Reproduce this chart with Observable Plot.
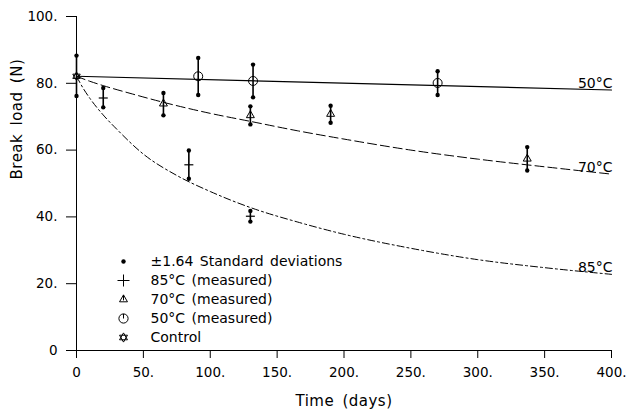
<!DOCTYPE html>
<html><head><meta charset="utf-8">
<script src="https://cdn.jsdelivr.net/npm/d3@7"></script>
<script src="https://cdn.jsdelivr.net/npm/@observablehq/plot@0.6"></script>
<style>
body{margin:0;background:#fff;}
#chart svg{font-family:"DejaVu Sans",sans-serif;background:#fff;}
</style></head><body><div id="chart"></div>
<script>
const days85 = [20, 84, 130];
const mean85 = [75.6, 55.6, 40.2];
const lo85 = [72.8, 51.4, 38.6];
const hi85 = [78.6, 59.9, 41.8];

const days70 = [65, 130, 190, 337];
const mean70 = [73.9, 70.4, 70.8, 57.4];
const lo70 = [70.4, 67.7, 68.2, 53.9];
const hi70 = [77.1, 73.1, 73.3, 60.9];

const days50 = [91, 132, 270];
const mean50 = [82.1, 80.7, 80.1];
const lo50 = [76.5, 75.8, 76.5];
const hi50 = [87.6, 85.6, 83.6];

const daysControl = [0];
const meanControl = [82.1];
const loControl = [76.2];
const hiControl = [88.3];

// ---- fitted curves ----
const fitDays50 = [0, 400];
const fit50 = [82.1, 78.0];
const fitDays70 = [0, 10, 20, 40, 65, 100, 130, 165, 200, 250, 300, 350, 400];
const fit70 = [82.1, 80.6, 79.3, 77.0, 74.3, 71.0, 68.6, 65.8, 63.3, 60.0, 57.3, 55.0, 52.8];
const fitDays85 = [0, 5, 10, 20, 30, 50, 75, 100, 130, 165, 200, 250, 300, 350, 400];
const fit85 = [82.1, 78.5, 75.5, 70.5, 66.3, 58.8, 52.4, 47.6, 42.8, 38.5, 34.8, 30.6, 27.2, 24.8, 22.8];
const curveLabels = ["50°C", "70°C", "85°C"];

const legendLabels = ["±1.64 Standard deviations", "85°C (measured)", "70°C (measured)", "50°C (measured)", "Control"];

const xTicks = [0, 50, 100, 150, 200, 250, 300, 350, 400];
const xTickLabels = ["0", "50.", "100.", "150.", "200.", "250.", "300.", "350.", "400."];
const yTicks = [0, 20, 40, 60, 80, 100];
const yTickLabels = ["0", "20.", "40.", "60.", "80.", "100."];
const xTitle = "Time (days)";
const yTitle = "Break load (N)";

// ---- custom symbols ----
const R = s => Math.sqrt(s / Math.PI);
const symPlus = {draw(c, s){const r = R(s); c.moveTo(-r,0); c.lineTo(r,0); c.moveTo(0,-r); c.lineTo(0,r);}};
const symHBar = {draw(c, s){const r = R(s); c.moveTo(-r,0); c.lineTo(r,0);}};
const symTri = bar => ({draw(c, s){const r = R(s);
  c.moveTo(0,-r); c.lineTo(r*0.866, r*0.5); c.lineTo(-r*0.866, r*0.5); c.closePath();
  if (bar) {c.moveTo(0,-r); c.lineTo(0, r*0.2);} }});
const symCirc = bar => ({draw(c, s){const r = R(s);
  c.moveTo(r,0); c.arc(0,0,r,0,2*Math.PI);
  if (bar) {c.moveTo(0,-r); c.lineTo(0,0);} }});
const symHex = {draw(c, s){const r = R(s);
  c.moveTo(0,-r); c.lineTo(r*0.866, r*0.5); c.lineTo(-r*0.866, r*0.5); c.closePath();
  c.moveTo(0,r); c.lineTo(r*0.866, -r*0.5); c.lineTo(-r*0.866, -r*0.5); c.closePath();}};

// ---- tables ----
function table(days, mean, lo, hi, series) {
  return days.map((d, i) => ({day: d, mean: mean[i], lo: lo[i], hi: hi[i], series}));
}
const m85 = table(days85, mean85, lo85, hi85, "85");
const m70 = table(days70, mean70, lo70, hi70, "70");
const m50 = table(days50, mean50, lo50, hi50, "50");
const mC = table(daysControl, meanControl, loControl, hiControl, "C");
const measured = [...m85, ...m70, ...m50, ...mC];

const curve = (days, vals) => days.map((d, i) => ({day: d, v: vals[i]}));
const c50 = curve(fitDays50, fit50), c70 = curve(fitDays70, fit70), c85 = curve(fitDays85, fit85);
const ends = [c50, c70, c85].map((c, i) => ({...c[c.length - 1], label: curveLabels[i]}));

const legendSyms = [null, symPlus, symTri(true), symCirc(true), symHex];
const legendMarks = legendLabels.flatMap((lab, i) => {
  const dy = -89 + i * 19;
  const marks = [
    Plot.text([lab], {text: d => d, frameAnchor: "bottom-left", dx: 74, dy, textAnchor: "start", lineAnchor: "middle", fontSize: 14, fill: "black"})
  ];
  if (i === 0) marks.push(Plot.dot([lab], {frameAnchor: "bottom-left", dx: 47, dy, r: 2.2, fill: "black", stroke: "none"}));
  else marks.push(Plot.dot([lab], {frameAnchor: "bottom-left", dx: 47, dy, r: i === 1 ? 6 : 4.6, symbol: legendSyms[i], stroke: "black", fill: "none", strokeWidth: 1}));
  return marks;
});

const chart = Plot.plot({
  width: 626, height: 414,
  marginLeft: 76, marginRight: 15, marginTop: 16, marginBottom: 64,
  style: {fontFamily: "DejaVu Sans", color: "black", background: "white"},
  x: {domain: [0, 400]},
  y: {domain: [0, 100]},
  marks: [
    Plot.axisX({ticks: xTicks, tickFormat: d => xTickLabels[xTicks.indexOf(d)], tickSize: 8, tickPadding: 9, fontSize: 13.5, label: null, stroke: "black", strokeOpacity: 1}),
    Plot.axisY({ticks: yTicks, tickFormat: d => yTickLabels[yTicks.indexOf(d)], tickSize: 10, tickPadding: 9, fontSize: 13.5, label: null, stroke: "black", strokeOpacity: 1}),
    Plot.ruleY([0], {stroke: "black"}),
    Plot.ruleX([0], {stroke: "black"}),
    Plot.line(c50, {x: "day", y: "v", stroke: "black", strokeWidth: 1.1}),
    Plot.line(c70, {x: "day", y: "v", stroke: "black", strokeWidth: 1, strokeDasharray: "9,4", curve: "monotone-x"}),
    Plot.line(c85, {x: "day", y: "v", stroke: "black", strokeWidth: 1, strokeDasharray: "7,3,2,3", curve: "monotone-x"}),
    Plot.ruleX(measured, {x: "day", y1: "lo", y2: "hi", stroke: "black", strokeWidth: 1.6}),
    Plot.dot(measured, {x: "day", y: "lo", r: 2.2, fill: "black", stroke: "none"}),
    Plot.dot(measured, {x: "day", y: "hi", r: 2.2, fill: "black", stroke: "none"}),
    Plot.dot(m85, {x: "day", y: "mean", r: 4.5, symbol: symHBar, stroke: "black", strokeWidth: 1.2}),
    Plot.dot(m70, {x: "day", y: "mean", r: 4.6, symbol: symTri(false), stroke: "black", fill: "none", strokeWidth: 1}),
    Plot.dot(m50, {x: "day", y: "mean", r: 4.5, symbol: symCirc(false), stroke: "black", fill: "none", strokeWidth: 1}),
    Plot.dot(mC, {x: "day", y: "mean", r: 4.3, symbol: symHex, stroke: "black", fill: "none", strokeWidth: 1}),
    Plot.text(ends, {x: "day", y: "v", text: "label", textAnchor: "end", lineAnchor: "bottom", dx: 1, dy: -2, fontSize: 14, fill: "black"}),
    ...legendMarks,
    Plot.text([xTitle], {text: d => d, frameAnchor: "bottom", dy: 51, lineAnchor: "middle", fontSize: 15, fill: "black"}),
    Plot.text([yTitle], {text: d => d, frameAnchor: "left", dx: -59, dy: -4, rotate: -90, lineAnchor: "middle", fontSize: 15, fill: "black"})
  ]
});
document.getElementById("chart").appendChild(chart);
d3.select(chart).selectAll("text").each(function() {
  const t = this.textContent;
  if (t === xTitle || t === yTitle) d3.select(this).style("letter-spacing", "0.5px").style("word-spacing", "3px");
  if (legendLabels.includes(t)) d3.select(this).style("word-spacing", "2px");
});
</script></body></html>
